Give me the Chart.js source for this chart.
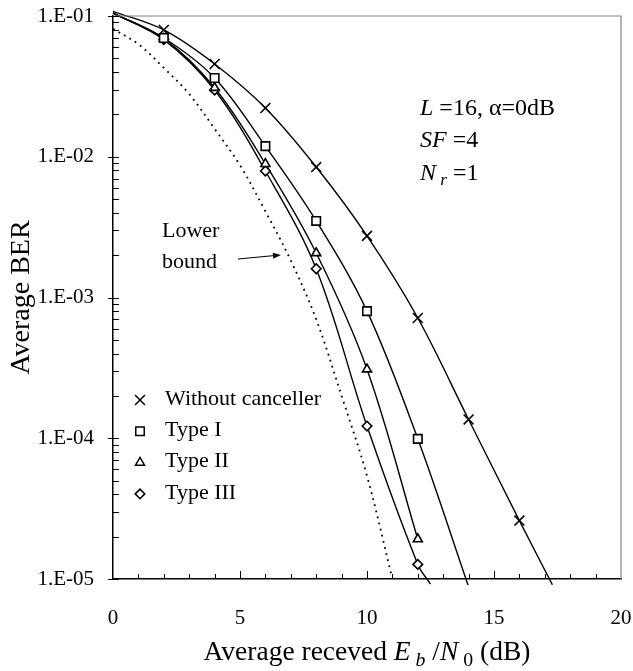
<!DOCTYPE html>
<html>
<head>
<meta charset="utf-8">
<script src="https://cdn.jsdelivr.net/npm/chart.js@4.4.1/dist/chart.umd.min.js"></script>
<style>
    body { margin: 0; background: #fff; }
    #wrap { width: 633px; height: 671px; }
</style>
</head>
<body>
<div id="wrap"><canvas id="berChart" width="633" height="671"></canvas></div>
<script>
// Average received Eb/N0 (dB) at the marker points
const markerSnr = [2, 4, 6, 8, 10, 12, 14, 16];

// Marker values
const withoutMarkers = [0.0796, 0.0456, 0.0222, 0.00845, 0.00274, 7.15e-4, 1.36e-4, 2.6e-5];
const type1Markers = [0.0698, 0.0363, 0.0119, 0.0035, 8.0e-4, 9.9e-5];
const type2Markers = [0.069, 0.0309, 0.0089, 0.00207, 3.09e-4, 1.92e-5];
const type3Markers = [0.068, 0.0298, 0.00792, 0.0016, 1.22e-4, 1.27e-5];

// Smoothed curves (start at 0 dB, a few run just past the bottom axis)
const withoutSnr = [0, 2, 4, 6, 8, 10, 12, 14, 16, 17.3];
const withoutCurve = [0.108, 0.0796, 0.0456, 0.0222, 0.00845, 0.00274, 7.15e-4, 1.36e-4, 2.6e-5, 9.1e-6];
const type1Snr = [0, 2, 4, 6, 8, 10, 12, 14];
const type1Curve = [0.105, 0.0698, 0.0363, 0.0119, 0.0035, 8.0e-4, 9.9e-5, 8.8e-6];
const type2Snr = [0, 2, 4, 6, 8, 10, 12];
const type2Curve = [0.105, 0.069, 0.0309, 0.0089, 0.00207, 3.09e-4, 1.92e-5];
const type3Snr = [0, 2, 4, 6, 8, 10, 12, 12.5];
const type3Curve = [0.105, 0.068, 0.0298, 0.00792, 0.0016, 1.22e-4, 1.27e-5, 9.2e-6];
const boundSnr = [0, 1, 2, 3, 4, 5, 6, 7, 8, 9, 10, 11];
const boundCurve = [0.081, 0.063, 0.0428, 0.0279, 0.0158, 0.0087, 0.0041, 0.00183, 7.0e-4, 2.0e-4, 5.4e-5, 1.0e-5];

// Axis tick labels
const xTickLabels = [0, 5, 10, 15, 20];
const yTickValues = [1e-1, 1e-2, 1e-3, 1e-4, 1e-5];
const yTickLabels = ['1.E-01', '1.E-02', '1.E-03', '1.E-04', '1.E-05'];

const serif = "'Liberation Serif', 'Times New Roman', serif";

function toPoints(xs, ys) {
    return ys.map((v, i) => ({ x: xs[i], y: v }));
}

function markerSet(label, values, style, radius) {
    return {
        label: label,
        data: toPoints(markerSnr, values),
        showLine: false,
        pointStyle: style,
        pointRadius: radius,
        pointBorderWidth: 1.6,
        pointBorderColor: '#000',
        pointBackgroundColor: '#fff',
        inLegend: true
    };
}

function curveSet(xs, ys, dashed) {
    return {
        data: toPoints(xs, ys),
        showLine: true,
        borderColor: '#000',
        borderWidth: dashed ? 1.8 : 1.4,
        borderDash: dashed ? [1.8, 4.5] : [],
        pointRadius: 0,
        tension: 0.35,
        clip: { left: 2, top: 8, right: 0, bottom: 6 }
    };
}

// draw a line of text made of runs (italic / subscript parts)
function drawRuns(ctx, runs, x, y, size, center) {
    const parts = runs.map(r => {
        const fs = r.sub ? size * 0.72 : size;
        const font = (r.italic ? 'italic ' : '') + fs + 'px ' + serif;
        ctx.font = font;
        return { t: r.t, font: font, w: ctx.measureText(r.t).width, dy: r.sub ? size * 0.22 : 0 };
    });
    let cx = x;
    if (center) cx -= parts.reduce((s, p) => s + p.w, 0) / 2;
    ctx.textAlign = 'left';
    ctx.textBaseline = 'alphabetic';
    parts.forEach(p => {
        ctx.font = p.font;
        ctx.fillText(p.t, cx, y + p.dy);
        cx += p.w;
    });
}

const overlay = {
    id: 'overlay',
    afterDraw(chart) {
        const { ctx, chartArea: a, scales: { x, y } } = chart;
        ctx.save();

        // grey frame on top and right
        ctx.strokeStyle = '#808080';
        ctx.lineWidth = 1.2;
        ctx.beginPath();
        ctx.moveTo(a.left, a.top);
        ctx.lineTo(a.right, a.top);
        ctx.lineTo(a.right, a.bottom);
        ctx.stroke();

        // y ticks: decades cross the axis, minor ticks inside
        ctx.strokeStyle = '#000';
        ctx.lineWidth = 1;
        ctx.beginPath();
        for (let e = -5; e <= -1; e++) {
            const py = Math.round(y.getPixelForValue(Math.pow(10, e))) + 0.5;
            ctx.moveTo(a.left - 5, py);
            ctx.lineTo(a.left + 6, py);
            if (e === -1) continue;
            for (let m = 2; m <= 9; m++) {
                const pm = Math.round(y.getPixelForValue(m * Math.pow(10, e))) + 0.5;
                ctx.moveTo(a.left, pm);
                ctx.lineTo(a.left + 6, pm);
            }
        }
        // x ticks inside, longer at labelled values
        for (let v = 1; v < 20; v++) {
            const px = Math.round(x.getPixelForValue(v)) + 0.5;
            ctx.moveTo(px, a.bottom);
            ctx.lineTo(px, a.bottom - (v % 5 === 0 ? 8 : 5));
        }
        ctx.stroke();

        // legend inside the plot
        const entries = chart.data.datasets.filter(d => d.inLegend);
        entries.forEach((d, i) => {
            const cy = a.top + 383 + i * 31.3;
            ctx.strokeStyle = '#000';
            ctx.fillStyle = '#fff';
            ctx.lineWidth = 1.5;
            Chart.helpers.drawPoint(ctx, { pointStyle: d.pointStyle, radius: d.pointRadius, borderWidth: 1.5, rotation: 0 }, a.left + 27, cy + 1);
            ctx.fillStyle = '#000';
            ctx.font = '22px ' + serif;
            ctx.textAlign = 'left';
            ctx.textBaseline = 'middle';
            ctx.fillText(d.label, a.left + 52, cy);
        });

        // parameter notes
        ctx.fillStyle = '#000';
        const nx = a.left + 307;
        drawRuns(ctx, [{ t: 'L', italic: true }, { t: ' =16, ' }, { t: 'α' }, { t: '=0dB' }], nx, a.top + 99, 24);
        drawRuns(ctx, [{ t: 'SF', italic: true }, { t: ' =4' }], nx, a.top + 131, 24);
        drawRuns(ctx, [{ t: 'N', italic: true }, { t: ' r', italic: true, sub: true }, { t: ' =1' }], nx, a.top + 164, 24);

        // lower bound label and arrow
        ctx.font = '22px ' + serif;
        ctx.textAlign = 'left';
        ctx.textBaseline = 'alphabetic';
        ctx.fillText('Lower', a.left + 49, a.top + 221);
        ctx.fillText('bound', a.left + 49, a.top + 252);
        const x0 = a.left + 125, y0 = a.top + 243, x1 = a.left + 168, y1 = a.top + 239;
        ctx.strokeStyle = '#000';
        ctx.lineWidth = 1.2;
        ctx.beginPath();
        ctx.moveTo(x0, y0);
        ctx.lineTo(x1 - 6, y1 + 0.5);
        ctx.stroke();
        const ang = Math.atan2(y1 - y0, x1 - x0);
        ctx.beginPath();
        ctx.moveTo(x1, y1);
        ctx.lineTo(x1 - 8 * Math.cos(ang) + 3 * Math.sin(ang), y1 - 8 * Math.sin(ang) - 3 * Math.cos(ang));
        ctx.lineTo(x1 - 8 * Math.cos(ang) - 3 * Math.sin(ang), y1 - 8 * Math.sin(ang) + 3 * Math.cos(ang));
        ctx.closePath();
        ctx.fill();

        // x axis title with italic and subscript parts
        drawRuns(ctx, [
            { t: 'Average receved ' },
            { t: 'E', italic: true },
            { t: ' b', italic: true, sub: true },
            { t: ' /' },
            { t: 'N', italic: true },
            { t: ' 0', sub: true },
            { t: ' (dB)' }
        ], (a.left + a.right) / 2, 660, 27.5, true);

        ctx.restore();
    }
};

const datasets = [
    markerSet('Without canceller', withoutMarkers, 'crossRot', 7),
    markerSet('Type I', type1Markers, 'rect', 6),
    markerSet('Type II', type2Markers, 'triangle', 5.2),
    markerSet('Type III', type3Markers, 'rectRot', 4.8),
    curveSet(withoutSnr, withoutCurve, false),
    curveSet(type1Snr, type1Curve, false),
    curveSet(type2Snr, type2Curve, false),
    curveSet(type3Snr, type3Curve, false),
    curveSet(boundSnr, boundCurve, true)
];

new Chart(document.getElementById('berChart'), {
    type: 'scatter',
    data: { datasets: datasets },
    options: {
        responsive: false,
        animation: false,
        events: [],
        layout: { padding: { top: 16, right: 12, left: 0, bottom: 0 } },
        plugins: {
            legend: { display: false },
            tooltip: { enabled: false }
        },
        scales: {
            x: {
                type: 'linear',
                min: 0,
                max: 20,
                grid: { display: false, drawTicks: false },
                border: { display: true, color: '#000', width: 1.5 },
                ticks: {
                    stepSize: 1,
                    autoSkip: false,
                    maxRotation: 0,
                    padding: 27,
                    color: '#000',
                    font: { family: serif, size: 21 },
                    callback: v => xTickLabels.includes(v) ? String(v) : ''
                },
                afterFit: s => {
                    s.height = 92;
                    s.paddingLeft = 0;
                    s.paddingRight = 0;
                }
            },
            y: {
                type: 'logarithmic',
                min: 1e-5,
                max: 1e-1,
                grid: { display: false, drawTicks: false },
                border: { display: true, color: '#000', width: 1.5 },
                ticks: {
                    autoSkip: false,
                    padding: 19,
                    color: '#000',
                    font: { family: serif, size: 21 },
                    callback: v => {
                        const i = yTickValues.findIndex(t => Math.abs(t - v) < t * 1e-6);
                        return i >= 0 ? yTickLabels[i] : '';
                    }
                },
                title: {
                    display: true,
                    text: 'Average BER',
                    color: '#000',
                    font: { family: serif, size: 28 },
                    padding: { top: 5, bottom: 0 }
                },
                afterFit: s => {
                    s.width = 113;
                    s.paddingTop = 0;
                    s.paddingBottom = 0;
                }
            }
        }
    },
    plugins: [overlay]
});
</script>
</body>
</html>
